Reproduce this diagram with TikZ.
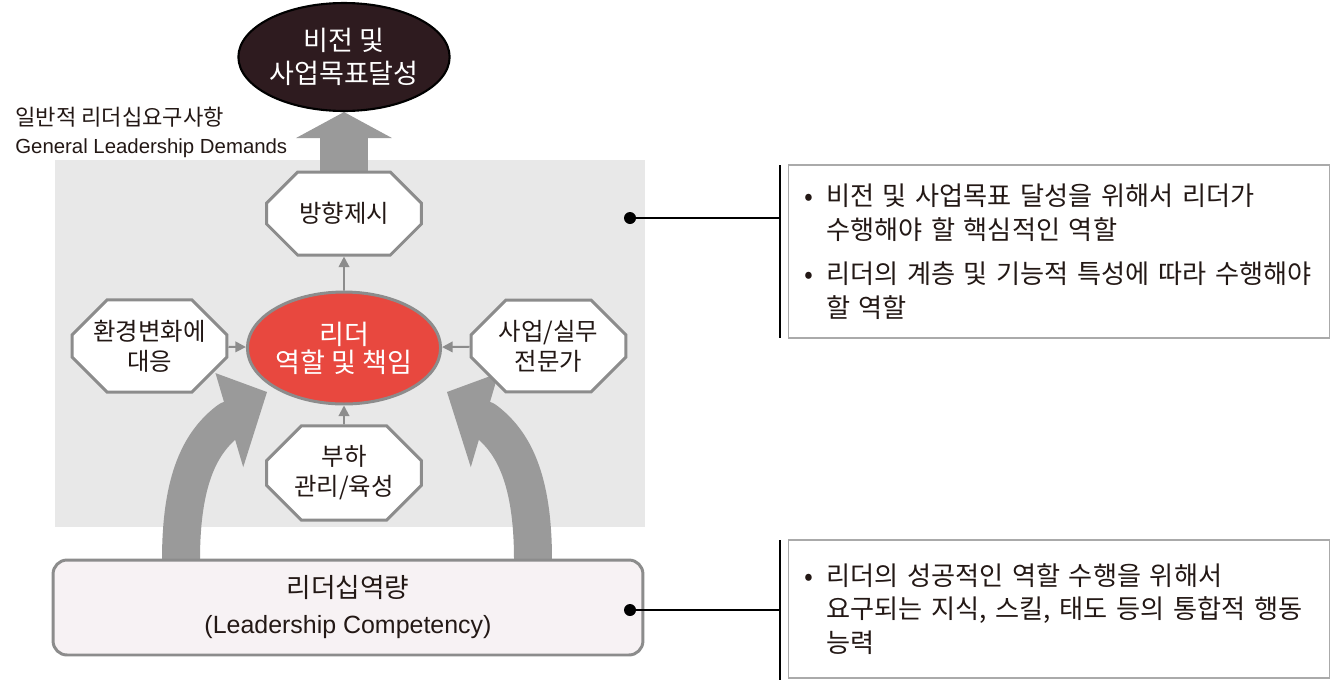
\documentclass[tikz,border=0pt]{standalone}
\usepackage{fontspec}
\setmainfont{Noto Sans CJK KR}
\newfontfamily\latinfont{Liberation Sans}
\usepackage{tikz}
\usetikzlibrary{shapes.geometric, shapes.misc, arrows.meta, positioning, backgrounds, calc}
\definecolor{ink}{HTML}{231815}
\definecolor{panelgray}{HTML}{E8E8E8}
\definecolor{edgegray}{HTML}{8C8C8C}
\definecolor{flowgray}{HTML}{9A9A9A}
\definecolor{rolered}{HTML}{E8483F}
\definecolor{visiondark}{HTML}{2E1B1F}
\definecolor{compfill}{HTML}{F7F2F4}
\definecolor{notegray}{HTML}{AAAAAA}
\newcommand{\notebullet}{\makebox[0.44cm][l]{•}}
\newcommand{\noteindent}{\hspace*{0.44cm}}

\begin{document}
\begin{tikzpicture}[
  x=0.02cm, y=-0.02cm,
  octbox/.style={chamfered rectangle, chamfered rectangle xsep=0.3cm, chamfered rectangle ysep=0.4cm,
                 draw=edgegray, line width=1.7pt, fill=white,
                 minimum width=3.1cm, minimum height=1.66cm, inner sep=0pt,
                 font=\fontsize{13.9}{17}\selectfont, text=ink, align=center},
  roleell/.style={ellipse, draw=edgegray, line width=1.7pt, fill=rolered,
                  minimum width=3.64cm, minimum height=2.24cm, inner sep=0pt,
                  font=\fontsize{15.4}{16}\selectfont, text=white, align=center},
  visionell/.style={ellipse, draw=black, line width=1.2pt, fill=visiondark,
                    minimum width=3.96cm, minimum height=2.16cm, inner sep=0pt,
                    font=\fontsize{15.4}{19}\selectfont, text=white, align=center},
  compbox/.style={rectangle, rounded corners=0.28cm, draw=edgegray, line width=1.7pt, fill=compfill,
                  minimum width=11.8cm, minimum height=1.9cm,
                  font=\fontsize{15.2}{20.5}\selectfont, text=ink, align=center},
  notebox/.style={rectangle, draw=notegray, line width=0.6pt, minimum width=10.84cm,
                  text width=10.2cm, inner xsep=0.32cm,
                  font=\fontsize{14.9}{19.3}\selectfont, text=ink, align=left},
  panel/.style={rectangle, fill=panelgray, minimum width=11.8cm, minimum height=7.34cm},
  dotmark/.style={circle, fill=black, inner sep=0pt, minimum size=0.24cm},
  linkline/.style={line width=1.2pt, black},
  smallarr/.style={-{Triangle[length=6pt, width=6pt]}, line width=1.1pt, draw=edgegray},
  bigarr/.style={line width=0.76cm, draw=flowgray, line cap=round},
  uparr/.style={-{Triangle[length=0.52cm, width=1.92cm, line width=0pt]}, line width=0.96cm, draw=flowgray},
]
\useasboundingbox (0,0) rectangle (1332,680);
\node[roleell] (role) at (344,348) {리더\\역할 및 책임};
\node[octbox, above=0.68cm of role] (dir)    {방향제시};
\node[octbox] (env)    at (149.5,346) {환경변화에\\대응};
\node[octbox] (expert) at (548.5,346) {사업/실무\\전문가};
\node[octbox] (sub)    at (344,473)   {부하\\관리/육성};
\node[visionell] (vision) at (344,57) {비전 및\\사업목표달성};
\node[compbox] (comp) at (348,607.5) {리더십역량\\{\latinfont\fontsize{14.2}{20.5}\selectfont (Leadership Competency)}};
\node[anchor=west, align=left, inner sep=0pt, text=ink, font=\fontsize{12.6}{16}\selectfont] (demand) at (15,132)
  {일반적 리더십요구사항\\{\latinfont\fontsize{11.6}{16}\selectfont General Leadership Demands}};
\node[notebox, minimum height=3.46cm] (note1) at (1059,251.5)
  {\notebullet 비전 및 사업목표 달성을 위해서 리더가\\
   \noteindent 수행해야 할 핵심적인 역할\\[0.2cm]
   \notebullet 리더의 계층 및 기능적 특성에 따라 수행해야\\
   \noteindent 할 역할};
\node[notebox, minimum height=2.76cm] (note2) at (1059,609)
  {\notebullet 리더의 성공적인 역할 수행을 위해서\\
   \noteindent 요구되는 지식, 스킬, 태도 등의 통합적 행동\\
   \noteindent 능력};
\node[dotmark] (dot1) at (630,218) {};
\node[dotmark] (dot2) at (630,610) {};
\coordinate (bar1top) at (780,165);
\coordinate (bar1bot) at (780,338);
\coordinate (bar2top) at (780,540);
\coordinate (bar2bot) at (780,680);
\coordinate (ltail) at (181,560);
\coordinate (ltip)  at (267,392);
\coordinate (rtail) at (533,560);
\coordinate (rtip)  at (447,392);
\begin{scope}[on background layer]
\node[panel] (bg) at (350,343.5) {};
\draw[bigarr, -{Triangle[length=0.94cm, width=1.84cm, slant=0.37, line width=0pt]}]
  (ltail) .. controls (181,480) and (200,442) .. (ltip);
\draw[bigarr, -{Triangle[length=0.94cm, width=1.84cm, slant=-0.37, line width=0pt]}]
  (rtail) .. controls (533,480) and (514,442) .. (rtip);
\draw[uparr] (dir.center) -- (vision.south);
\end{scope}
\draw[smallarr] (role) -- (dir);
\draw[smallarr] (env) -- (role);
\draw[smallarr] (expert) -- (role);
\draw[smallarr] (sub) -- (role);
\draw[linkline] (bar1top) -- (bar1bot);
\draw[linkline] (bar2top) -- (bar2bot);
\draw[linkline] (dot1.center) -- (dot1 -| bar1top);
\draw[linkline] (dot2.center) -- (dot2 -| bar2top);
\end{tikzpicture}
\end{document}
